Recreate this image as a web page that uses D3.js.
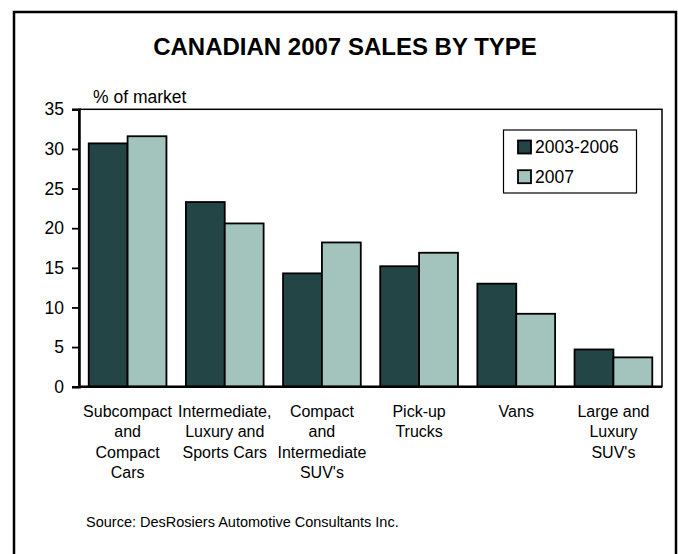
<!DOCTYPE html>
<html>
<head>
<meta charset="utf-8">
<script src="https://cdn.jsdelivr.net/npm/d3@7"></script>
<style>
  html, body { margin: 0; padding: 0; background: #fff; }
  svg { display: block; font-family: Arial, "Liberation Sans", sans-serif; }
</style>
</head>
<body>
<svg id="chart" width="678" height="554"></svg>
<script>
// Vehicle categories (multi-line labels) and market shares, in percent
const categories = [
  ["Subcompact", "and", "Compact", "Cars"],
  ["Intermediate,", "Luxury and", "Sports Cars"],
  ["Compact", "and", "Intermediate", "SUV's"],
  ["Pick-up", "Trucks"],
  ["Vans"],
  ["Large and", "Luxury", "SUV's"]
];
const seriesNames = ["2003-2006", "2007"];
const share2003to2006 = [30.7, 23.3, 14.3, 15.2, 13.0, 4.7];
const share2007 = [31.6, 20.6, 18.2, 16.9, 9.2, 3.7];
const yTicks = [0, 5, 10, 15, 20, 25, 30, 35];

const colors = ["#234545", "#a3c4bd"];

const svg = d3.select("#chart");

// Outer frame
svg.append("rect")
  .attr("x", 14).attr("y", 12)
  .attr("width", 662).attr("height", 580)
  .attr("fill", "#fff")
  .attr("stroke", "#000").attr("stroke-width", 2.5);

// Title
svg.append("text")
  .attr("x", 345).attr("y", 55)
  .attr("text-anchor", "middle")
  .attr("font-size", 24).attr("font-weight", "bold")
  .text("CANADIAN 2007 SALES BY TYPE");

const plot = { left: 79, right: 662, top: 109.3, bottom: 386.7 };

const x0 = d3.scaleBand()
  .domain(d3.range(categories.length))
  .range([plot.left, plot.right])
  .paddingInner(0.2).paddingOuter(0.1);

const x1 = d3.scaleBand()
  .domain(d3.range(seriesNames.length))
  .range([0, x0.bandwidth()]);

const y = d3.scaleLinear().domain([0, 35]).range([plot.bottom, plot.top]);

// Plot area border
svg.append("rect")
  .attr("x", plot.left).attr("y", plot.top)
  .attr("width", plot.right - plot.left).attr("height", plot.bottom - plot.top)
  .attr("fill", "none").attr("stroke", "#000").attr("stroke-width", 1.5);

// Bars
const rows = categories.map((c, i) => [share2003to2006[i], share2007[i]]);
const groups = svg.append("g").selectAll("g")
  .data(rows).join("g")
  .attr("transform", (d, i) => `translate(${x0(i)},0)`);
groups.selectAll("rect")
  .data(d => d.map((v, s) => ({ v, s })))
  .join("rect")
  .attr("x", d => x1(d.s))
  .attr("y", d => y(d.v))
  .attr("width", x1.bandwidth())
  .attr("height", d => y(0) - y(d.v))
  .attr("fill", d => colors[d.s])
  .attr("stroke", "#000").attr("stroke-width", 1.8);

// Y axis
const yAxis = svg.append("g")
  .attr("transform", `translate(${plot.left},0)`)
  .call(d3.axisLeft(y).tickValues(yTicks).tickSize(7).tickPadding(8));
yAxis.select(".domain").attr("stroke-width", 2.5);
yAxis.selectAll(".tick line").attr("stroke-width", 1.8);
yAxis.selectAll(".tick text")
  .attr("font-size", 17.5).attr("font-family", "Arial, 'Liberation Sans', sans-serif")
  .attr("fill", "#000");

// X axis baseline
svg.append("line")
  .attr("x1", plot.left).attr("x2", plot.right)
  .attr("y1", y(0)).attr("y2", y(0))
  .attr("stroke", "#000").attr("stroke-width", 2.5);

// Y axis unit label
svg.append("text")
  .attr("x", 93).attr("y", 103)
  .attr("font-size", 17.5)
  .text("% of market");

// Category labels
const catLabels = svg.append("g").selectAll("text")
  .data(categories).join("text")
  .attr("text-anchor", "middle")
  .attr("font-size", 16)
  .attr("transform", (d, i) => `translate(${x0(i) + x0.bandwidth() / 2},416.5)`);
catLabels.selectAll("tspan")
  .data(d => d).join("tspan")
  .attr("x", 0)
  .attr("y", (d, i) => i * 20.5)
  .text(d => d);

// Legend
const legend = svg.append("g");
legend.append("rect")
  .attr("x", 503.5).attr("y", 130)
  .attr("width", 133).attr("height", 63)
  .attr("fill", "#fff").attr("stroke", "#000").attr("stroke-width", 1.2);
seriesNames.forEach((name, i) => {
  const cy = 147 + i * 29.7;
  legend.append("rect")
    .attr("x", 518).attr("y", cy - 6.5)
    .attr("width", 13).attr("height", 13)
    .attr("fill", colors[i]).attr("stroke", "#000").attr("stroke-width", 1.8);
  legend.append("text")
    .attr("x", 535).attr("y", cy + 6)
    .attr("font-size", 17.5)
    .text(name);
});

// Source note
svg.append("text")
  .attr("x", 86).attr("y", 527)
  .attr("font-size", 14.5)
  .text("Source: DesRosiers Automotive Consultants Inc.");
</script>
</body>
</html>
